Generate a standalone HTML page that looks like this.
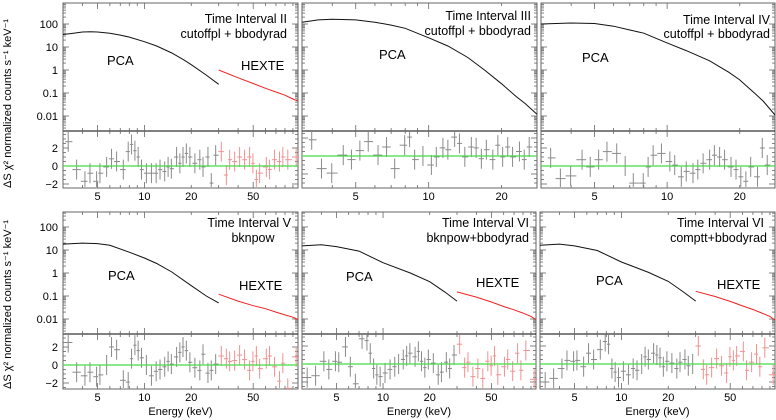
<!DOCTYPE html>
<html><head><meta charset="utf-8">
<style>
html,body{margin:0;padding:0;background:#fff;}
svg{display:block;font-family:"Liberation Sans",sans-serif;}
</style></head>
<body>
<svg id="fig" width="776" height="420" viewBox="0 0 776 420" xmlns="http://www.w3.org/2000/svg"></svg>
<script>
// ---- data ----
const gridA_pca = [3.24,3.67,4.15,4.47,4.93,5.18,5.72,6.15,6.63,7.32,7.87,8.27,8.69,9.12,9.58,10.3,11.1,11.9,12.6,13.5,14.2,14.9,16.1,16.9,17.7,18.6,19.6,21.1,22.7,23.8,25.6,26.9,28.7];
const gridA_hx = [31.2,33.6,35.3,38,40.9,44,47.4,49.8,52.4,55,60.7,63.7,68.6,73.8,77.5,83.4,94.4];
const gridB_pca = [3.29,3.61,3.98,4.44,4.8,5.2,5.63,6.18,6.7,7.24,7.96,8.34,8.75,9.47,10.26,10.75,11.45,12.0,12.8,13.4,14.1,15.0,15.7,16.5,17.3,18.4,19.3,20.2,21.2,22.2,23.7,24.8,26.0];

const res1_pca = [2.7,-0.4,-1.7,-0.8,-1.7,-0.8,-0.1,0.8,0.5,-0.4,1.6,2.4,1.7,1.0,-0.4,-0.8,-0.8,-0.8,-0.4,-0.6,-0.1,-0.3,1.0,0.3,1.0,1.4,1.0,0.3,0.7,-0.1,1.0,-1.9,1.2];
const res1_hx = [1.6,-1.0,0.7,0.5,1.0,0.7,1.0,0.3,-1.5,-0.8,-0.1,-0.4,0.7,0.5,1.0,0.7,1.0];
const res2_pca = [1.8,-1.4,-1.9,0.1,-0.4,0.6,1.6,0.1,1.0,-1.4,1.2,2.1,-0.4,0,-1.0,-0.1,0.9,0.7,2.1,1.4,-0.1,1.0,0.9,-0.3,0.7,-0.4,1.2,-0.1,1.0,-0.1,0.5,-0.4,1.0];
const res3_pca = [0.9,-1.4,-1.1,0.7,-0.1,0.7,1.6,1.4,0,-1.9,-1.9,-0.1,1.2,1.4,0.5,0.1,-1.2,-0.6,-0.8,-0.4,0.3,0.7,1.2,1.0,0.7,-0.1,-0.4,-1.2,-1.7,-0.1,-1.2,2.0,0.1];
const res4_pca = [2.5,-0.8,-1.2,-0.8,-1.3,-1.1,0,2.0,1.7,-1.7,-1.9,0.7,2.2,1.6,0.8,0,-1.2,-0.7,-0.5,-0.2,0.4,0.1,0.9,1.4,2.0,1.6,0.3,-0.3,-0.6,1.2,-0.9,-0.6,0.1];
const res4_hx = [1.0,0.7,0.4,0.5,1.1,0.6,-0.6,0.4,1.0,-0.4,0.7,1.0,-0.2,-1.8,0.2,-2.6,0.9];
const res5_pca = [-1.5,-1.3,0.3,-0.6,0.3,0.2,1.9,-0.3,-2.2,2.8,2.6,1.2,-0.5,-1.2,-1.4,-1.0,-0.6,-0.3,0,0.5,0.9,1.2,0.8,1.4,0.3,-0.4,0.5,0.1,-1.2,-0.9,0.2,-0.5,1.0];
const res5_hx = [2.2,-0.4,0.2,-1.4,-0.5,-1.6,0.3,-0.2,0.9,-1.2,-0.3,0.5,-0.8,1.2,-0.7,1.5,-1.7];
const res6_pca = [-2.0,-1.6,-0.5,0.4,0.3,0.4,-0.3,1.2,0.5,1.6,2.5,2.2,-0.5,-0.9,-1.5,-0.8,-1.2,-0.5,-0.7,0,0.8,0.5,1.2,1.0,0.7,-0.3,0.3,0.1,-0.5,0.2,0.5,-0.2,0];
const res6_hx = [2.0,-0.6,-1.2,-0.4,0.6,-0.2,-1.0,0.8,0.4,0.9,1.4,-0.7,0.2,1.1,-0.3,1.8,-1.2];

const specE1 = [3,3.5,4,4.5,5,6,7,8,10,12,15,18,20,25,30];
const spec1 = [35,40,45,46,45,40,33,27,17,11,5.5,2.7,1.7,0.6,0.24];
const hxE = [30,40,50,60,70,80,90,97];
const hx1 = [1.0,0.46,0.26,0.16,0.11,0.08,0.055,0.044];
const specE2 = [3,3.5,4,5,6,7,8,10,12,14.5,17,20,23,25,28];
const spec2 = [120,150,160,150,120,90,65,25,11,3.5,1.0,0.25,0.07,0.035,0.012];
const specE3 = [3,4,5,6,7,8,10,12,15,18,20,23,25,28];
const spec3 = [100,110,105,80,55,40,15,7,2.5,0.8,0.37,0.1,0.045,0.011];
const specE4 = [3,4,5,6,8,10,12,15,20,25,30];
const spec4 = [18,20,19,16,8,4.5,2.6,1.1,0.28,0.1,0.05];
const hx4 = [0.12,0.06,0.038,0.028,0.02,0.015,0.012,0.0095];
const specE5 = [3,4,5,7,10,15,20,25,30];
const spec5 = [15,17,14,9,2.8,1.0,0.42,0.15,0.06];
const hx5 = [0.15,0.09,0.055,0.035,0.025,0.018,0.013,0.0095];
const spec6 = [16,18,15,9.5,3.0,1.05,0.43,0.15,0.06];
const hx6 = [0.16,0.095,0.058,0.037,0.026,0.018,0.013,0.009];

const yTickVals = [100,10,1,0.1,0.01];
const yTickLabels = ["100","10","1","0.1","0.01"];
const rTickVals = [2,0,-2];
const rTickLabels = ["2","0","\u22122"];
const xTicksWide = [5,10,20,50];
const xTicksNarrow = [5,10,20];

// ---- drawing ----
const NS="http://www.w3.org/2000/svg";
const svg=document.getElementById('fig');
function mk(tag,attrs,parent){const e=document.createElementNS(NS,tag);for(const k in attrs)e.setAttribute(k,attrs[k]);(parent||svg).appendChild(e);return e;}

const panels=[
 {id:'ii',x0:63,x1:298,top:3,mid:131,bot:188,emax:97,y100:24,r0:166,pE:gridA_pca,pR:res1_pca,hE:gridA_hx,hR:res1_hx,sE:specE1,s:spec1,hx:hx1,xt:xTicksWide,ylab:true,xlab:true,title:["Time Interval II","cutoffpl + bbodyrad"],tx:287,ty:[23,38],pca:[107,65],hex:[241,70],energy:false},
 {id:'iii',x0:302,x1:537,top:3,mid:131,bot:188,emax:28,y100:24,r0:156,pE:gridB_pca,pR:res2_pca,sE:specE2,s:spec2,xt:xTicksNarrow,ylab:false,xlab:true,title:["Time Interval III","cutoffpl + bbodyrad"],tx:531,ty:[20,35],pca:[379,59],energy:false},
 {id:'iv',x0:541,x1:775,top:3,mid:131,bot:188,emax:28,y100:24,r0:166,pE:gridB_pca,pR:res3_pca,sE:specE3,s:spec3,xt:xTicksNarrow,ylab:false,xlab:true,title:["Time Interval IV","cutoffpl + bbodyrad"],tx:770,ty:[24,38],pca:[582,62],energy:false},
 {id:'v',x0:63,x1:298,top:212,mid:334,bot:389,emax:97,y100:227,r0:365,pE:gridA_pca,pR:res4_pca,hE:gridA_hx,hR:res4_hx,sE:specE4,s:spec4,hx:hx4,xt:xTicksWide,ylab:true,xlab:true,title:["Time Interval V","bknpow"],tx:291,ty:[227,242],anchor2:'middle',t2x:253,pca:[108,280],hex:[239,290],energy:true},
 {id:'vi-a',x0:302,x1:536,top:212,mid:334,bot:389,emax:97,y100:227,r0:364,pE:gridA_pca,pR:res5_pca,hE:gridA_hx,hR:res5_hx,sE:specE5,s:spec5,hx:hx5,xt:xTicksWide,ylab:false,xlab:true,title:["Time Interval VI","bknpow+bbodyrad"],tx:529,ty:[227,242],pca:[346,281],hex:[476,287],energy:true},
 {id:'vi-b',x0:540,x1:775,top:212,mid:334,bot:389,emax:97,y100:227,r0:364,pE:gridA_pca,pR:res6_pca,hE:gridA_hx,hR:res6_hx,sE:specE5,s:spec6,hx:hx6,xt:xTicksWide,ylab:false,xlab:true,title:["Time Interval VI","comptt+bbodyrad"],tx:764,ty:[227,242],t2x:767,pca:[596,285],hex:[717,289],energy:true}
];

panels.forEach(p=>{
  const g=mk('g',{});
  
  
  const W=p.x1-p.x0, L=Math.log10(p.emax/3);
  const X=e=>p.x0+W*Math.log10(e/3)/L;
  const YS=v=>p.y100+(2-Math.log10(v))*23;
  const YR=v=>p.r0-v*9;
  const fr=mk('rect',{x:p.x0,y:p.top,width:W,height:p.bot-p.top,fill:'none',stroke:'#666','stroke-width':1},g);
  
  
  const sep=mk('line',{x1:p.x0,x2:p.x1,y1:p.mid,y2:p.mid,stroke:'#000','stroke-width':1},g);
  
  
  const tk=mk('g',{stroke:'#666','stroke-width':0.8},g);
  
  
  for(let d=1;d<=100;d*=10)for(let m=1;m<10;m++){const e=m*d;if(e<3||e>p.emax)continue;const x=X(e);const len=(m===1||m===5)?6:3;
    mk('line',{x1:x,x2:x,y1:p.bot,y2:p.bot-len},tk);mk('line',{x1:x,x2:x,y1:p.top,y2:p.top+len},tk);
    mk('line',{x1:x,x2:x,y1:p.mid,y2:p.mid-len},tk);mk('line',{x1:x,x2:x,y1:p.mid,y2:p.mid+len},tk);}
  for(let dec=-3;dec<=2;dec++)for(let m=1;m<10;m++){const v=m*Math.pow(10,dec);const y=YS(v);if(y<p.top||y>p.mid)continue;const len=m===1?6:3;
    mk('line',{x1:p.x0,x2:p.x0+len,y1:y,y2:y},tk);mk('line',{x1:p.x1,x2:p.x1-len,y1:y,y2:y},tk);}
  for(let v=-3;v<=4;v+=0.5){const y=YR(v);if(y<=p.mid||y>=p.bot)continue;const len=(v%2===0)?6:3;
    mk('line',{x1:p.x0,x2:p.x0+len,y1:y,y2:y},tk);mk('line',{x1:p.x1,x2:p.x1-len,y1:y,y2:y},tk);}
  if(p.ylab){
    yTickVals.forEach((v,i)=>{const t=mk('text',{x:p.x0-5,y:YS(v)+4,'font-size':11,'text-anchor':'end',fill:'#000'},g);t.textContent=yTickLabels[i];
      
      });
    rTickVals.forEach((v,i)=>{const t=mk('text',{x:p.x0-5,y:YR(v)+4,'font-size':11,'text-anchor':'end',fill:'#000'},g);t.textContent=rTickLabels[i];
      
      });
    const yt=mk('text',{transform:`translate(11,${p.bot}) rotate(-90)`,'font-size':11,fill:'#000'},g);
    yt.textContent='\u0394S \u03c7\u00b2  normalized counts s\u207b\u00b9 keV\u207b\u00b9';
    
    
  }
  if(p.xlab){
    p.xt.forEach(e=>{const t=mk('text',{x:X(e),y:p.bot+12,'font-size':11,'text-anchor':'middle',fill:'#000'},g);t.textContent=String(e);
      
      });
  }
  if(p.energy){const t=mk('text',{x:(p.x0+p.x1)/2,y:p.bot+26,'font-size':11,'text-anchor':'middle',fill:'#000'},g);t.textContent='Energy (keV)';
    
    }
  function resid(E,R,color,name){
    const rg=mk('g',{stroke:color,'stroke-width':1},g);
    
    
    E.forEach((e,i)=>{const x=X(e);const xl=i>0?(x+X(E[i-1]))/2:x-3;const xr=i<E.length-1?(x+X(E[i+1]))/2:x+3;
      const y=YR(R[i]);const y1=Math.max(p.mid+1,y-10),y2=Math.min(p.bot-1,y+10);
      if(y>p.mid&&y<p.bot)mk('line',{x1:xl,x2:xr,y1:y,y2:y},rg);
      if(y1<y2)mk('line',{x1:x,x2:x,y1:y1,y2:y2},rg);});
  }
  resid(p.pE,p.pR,'#8a8a8a','pca-residuals');
  if(p.hE)resid(p.hE,p.hR,'#f29090','hexte-residuals');
  const gl=mk('line',{x1:p.x0,x2:p.x1,y1:YR(0),y2:YR(0),stroke:'#44dd44','stroke-width':1.2},g);
  
  
  const pts=p.sE.map((e,i)=>X(e).toFixed(1)+','+YS(p.s[i]).toFixed(1)).join(' ');
  const pl=mk('polyline',{points:pts,fill:'none',stroke:'#111','stroke-width':1},g);
  
  
  if(p.hx){const hp=hxE.map((e,i)=>X(e).toFixed(1)+','+YS(p.hx[i]).toFixed(1)).join(' ');
    const h=mk('polyline',{points:hp,fill:'none',stroke:'#ee2222','stroke-width':1},g);
    
    }
  const t1=mk('text',{x:p.tx,y:p.ty[0],'font-size':12.5,'text-anchor':'end',fill:'#000'},g);t1.textContent=p.title[0];
  
  
  const t2=mk('text',{x:p.t2x||p.tx,y:p.ty[1],'font-size':12.5,'text-anchor':p.anchor2||'end',fill:'#000'},g);t2.textContent=p.title[1];
  
  
  const pc=mk('text',{x:p.pca[0],y:p.pca[1],'font-size':13,fill:'#000'},g);pc.textContent='PCA';
  
  
  if(p.hex){const hx=mk('text',{x:p.hex[0],y:p.hex[1],'font-size':13,fill:'#000'},g);hx.textContent='HEXTE';
    
    }
});
</script>
</body></html>
